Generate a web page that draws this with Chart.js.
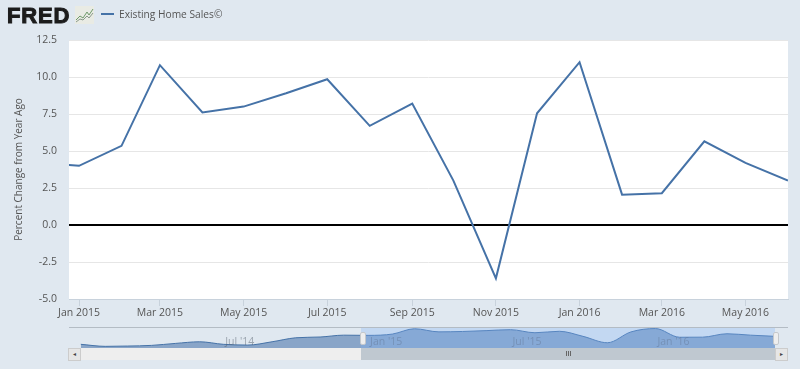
<!DOCTYPE html>
<html>
<head>
<meta charset="utf-8">
<title>Existing Home Sales</title>
<script src="https://cdn.jsdelivr.net/npm/chart.js@4"></script>
<style>
  html,body{margin:0;padding:0;}
  body{width:800px;height:369px;overflow:hidden;position:relative;background:#e0e8f0;font-family:'Open Sans',sans-serif;}
  canvas{position:absolute;display:block;}
  .abs{position:absolute;}
  #logo{left:7px;top:1px;font:900 22px/29px 'Liberation Sans',sans-serif;letter-spacing:.8px;color:#1c1c1c;-webkit-text-stroke:1px #1c1c1c;}
  #legend-line{left:101px;top:13px;width:13px;height:2px;background:#4572a7;}
  #legend-txt{left:119px;top:6px;font-size:10.2px;line-height:16px;color:#555;}
  #nav-top{left:69px;top:327px;width:719px;height:1px;background:#b4bcc4;}
  #nav-sel{left:361px;top:328px;width:414px;height:20px;background:rgba(130,178,247,.3);}
  #track{left:81px;top:348px;width:694px;height:12px;background:#eeeeee;}
  #thumb{left:361px;top:348px;width:414px;height:12px;background:#bfc8d0;}
  #grip{left:566px;top:351px;width:5px;height:5px;background:repeating-linear-gradient(90deg,#666 0,#666 1px,transparent 1px,transparent 2px);}
  .btn{top:348px;width:11px;height:11px;background:#e6e6e6;border:1px solid #ccc;color:#444;font-size:6px;line-height:11px;text-align:center;}
  .handle{top:332px;width:4px;height:11px;background:#eeeeee;border:1px solid #c4c8cc;border-radius:2px;}
</style>
</head>
<body>
<canvas id="main" width="800" height="369" style="left:0;top:0"></canvas>
<div class="abs" id="nav-top"></div>
<canvas id="nav" width="719" height="21" style="left:69px;top:327px"></canvas>
<div class="abs" id="nav-sel"></div>
<div class="abs" id="track"></div>
<div class="abs" id="thumb"></div>
<div class="abs" id="grip"></div>
<div class="abs btn" style="left:68px">◂</div>
<div class="abs btn" style="left:775px">▸</div>
<div class="abs handle" style="left:360px"></div>
<div class="abs handle" style="left:773px"></div>
<div class="abs" id="logo">FRED</div>
<svg class="abs" style="left:75px;top:6px" width="19" height="18" viewBox="0 0 19 18">
  <rect width="19" height="18" fill="#e9ebe4"/>
  <polyline points="1,14 5,10 8,12 12,6 14,9 18,3" fill="none" stroke="#6f9a6a" stroke-width="1"/>
  <polyline points="1,16 5,13 8,14 12,10 14,12 18,7" fill="none" stroke="#8a9a8a" stroke-width="1"/>
</svg>
<div class="abs" id="legend-line"></div>
<div class="abs" id="legend-txt">Existing Home Sales©</div>

<script>
// ===================== DATA =====================
const months = ['2014-12','2015-01','2015-02','2015-03','2015-04','2015-05','2015-06','2015-07','2015-08','2015-09','2015-10','2015-11','2015-12','2016-01','2016-02','2016-03','2016-04','2016-05','2016-06'];
const pctChange = [4.2,4.0,5.35,10.8,7.6,8.0,8.9,9.85,6.7,8.2,3.0,-3.6,7.55,11.0,2.05,2.15,5.65,4.2,3.0];

const tickMonths = ['2015-01','2015-03','2015-05','2015-07','2015-09','2015-11','2016-01','2016-03','2016-05'];
const tickLabels = ['Jan 2015','Mar 2015','May 2015','Jul 2015','Sep 2015','Nov 2015','Jan 2016','Mar 2016','May 2016'];

// navigator: the 2014 part that is not in the main window
const navMonths = ['2014-01','2014-02','2014-03','2014-04','2014-05','2014-06','2014-07','2014-08','2014-09','2014-10','2014-11'];
const navValues = [-5.2,-7.3,-7.0,-6.3,-4.3,-2.6,-5.2,-6.0,-2.6,1.5,2.3];
const navTickMonths = ['2014-07','2015-01','2015-07','2016-01'];
const navTickLabels = ["Jul '14","Jan '15","Jul '15","Jan '16"];

// ===================== HELPERS =====================
const DAY = 86400000;
function dayOf(ym){
  const [y,m]=ym.split('-').map(Number);
  return (Date.UTC(y,m-1,1)-Date.UTC(2015,0,1))/DAY;
}
const FONT = "'Open Sans',sans-serif";

const plotBg = {
  id:'plotBg',
  beforeDraw(c){
    const a=c.chartArea;
    c.ctx.fillStyle='#ffffff';
    c.ctx.fillRect(a.left,a.top,a.right-a.left,a.bottom-a.top);
  }
};

const navLabelsPlugin = {
  id:'navLabels',
  afterDatasetsDraw(c){
    const ctx=c.ctx;
    ctx.save();
    ctx.font="10.5px "+FONT;
    ctx.fillStyle='rgba(85,95,110,.5)';
    ctx.textBaseline='middle';
    navTickMonths.forEach((m,i)=>{
      ctx.fillText(navTickLabels[i],c.scales.x.getPixelForValue(dayOf(m))+2,15);
    });
    ctx.restore();
  }
};

// ===================== MAIN CHART =====================
new Chart(document.getElementById('main').getContext('2d'),{
  type:'line',
  data:{datasets:[{
    data:months.map((m,i)=>({x:dayOf(m),y:pctChange[i]})),
    borderColor:'#4572a7',borderWidth:2,pointRadius:0,tension:0,fill:false
  }]},
  options:{
    responsive:false,animation:false,
    layout:{padding:{top:40,right:12,left:13,bottom:0}},
    plugins:{legend:{display:false},tooltip:{enabled:false}},
    scales:{
      x:{
        type:'linear',min:-7.3,max:517,
        afterBuildTicks(s){ s.ticks=tickMonths.map(m=>({value:dayOf(m)})); },
        afterFit(s){ s.height=70; },
        grid:{drawOnChartArea:false,drawTicks:true,tickLength:7,color:'#c8d2dc'},
        border:{display:true,color:'#c8d2dc'},
        ticks:{
          autoSkip:false,maxRotation:0,color:'#555555',font:{family:FONT,size:10.5},padding:1,
          callback:v=>tickLabels[tickMonths.findIndex(m=>dayOf(m)===v)]
        }
      },
      y:{
        min:-5,max:12.5,
        afterFit(s){ s.width=56; },
        grid:{
          drawTicks:false,
          color:c=>c.tick.value===0?'#000000':'#e6e6e6',
          lineWidth:c=>c.tick.value===0?2:1
        },
        border:{display:false},
        ticks:{stepSize:2.5,color:'#555555',font:{family:FONT,size:10.5},padding:12,callback:v=>v.toFixed(1)},
        title:{display:true,text:'Percent Change from Year Ago',color:'#555555',font:{family:FONT,size:10},padding:{top:0,bottom:0}}
      }
    }
  },
  plugins:[plotBg]
});

// ===================== NAVIGATOR =====================
const navAllMonths = navMonths.concat(months);
const navAllValues = navValues.concat(pctChange);
new Chart(document.getElementById('nav').getContext('2d'),{
  type:'line',
  data:{datasets:[{
    data:navAllMonths.map((m,i)=>({x:dayOf(m),y:navAllValues[i]})),
    borderColor:'#4572a7',borderWidth:1,pointRadius:0,cubicInterpolationMode:'monotone',
    fill:'start',backgroundColor:'#89a5c8'
  }]},
  options:{
    responsive:false,animation:false,
    layout:{padding:0},
    plugins:{legend:{display:false},tooltip:{enabled:false}},
    scales:{
      x:{type:'linear',display:false,min:dayOf('2014-01')-15,max:dayOf('2016-06')+16.5},
      y:{display:false,min:-9,max:12.6}
    }
  },
  plugins:[navLabelsPlugin]
});
</script>
</body>
</html>
